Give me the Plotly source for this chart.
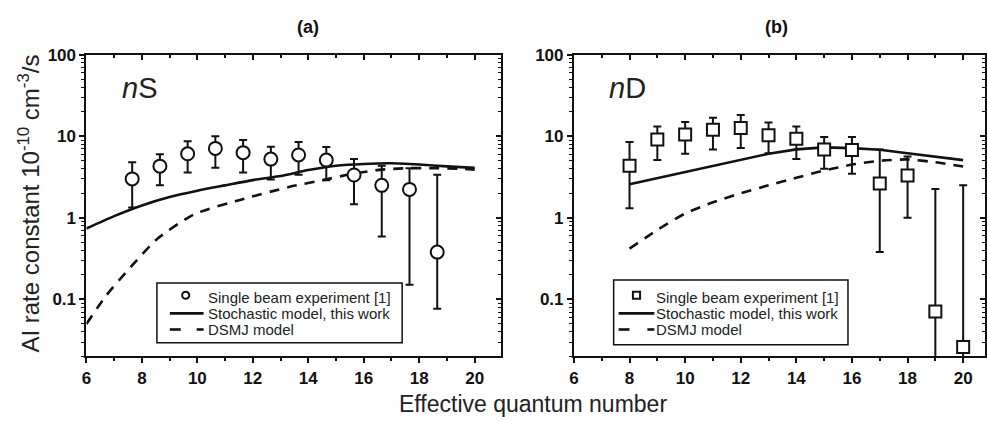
import plotly.graph_objects as go

W, H = 987, 421

# ---------------- data: panel (a) nS ----------------
ns_x = [7.65, 8.65, 9.65, 10.65, 11.65, 12.65, 13.65, 14.65, 15.65, 16.65, 17.65, 18.65]
ns_y = [3.0, 4.3, 6.1, 7.1, 6.3, 5.25, 5.9, 5.1, 3.35, 2.5, 2.23, 0.38]
ns_hi = [4.8, 6.0, 8.7, 10.0, 9.0, 7.45, 8.5, 7.4, 5.25, 4.36, 4.06, 3.37]
ns_lo = [1.34, 2.5, 3.6, 4.1, 3.6, 2.96, 3.37, 2.88, 1.47, 0.59, 0.151, 0.077]

ns_stoch_x = [6, 7, 8, 9, 10, 11, 12, 13, 14, 15, 16, 17, 18, 19, 20]
ns_stoch_y = [0.74, 1.05, 1.42, 1.8, 2.15, 2.5, 2.9, 3.25, 3.85, 4.35, 4.58, 4.66, 4.5, 4.28, 4.1]

ns_dsmj_x = [6, 6.7, 7.6, 8.55, 9.87, 11.54, 13.33, 14.52, 15.6, 16.55, 17.56, 18.46, 19.42, 20]
ns_dsmj_y = [0.05, 0.11, 0.25, 0.55, 1.1, 1.66, 2.4, 2.9, 3.47, 3.87, 4.06, 4.06, 4.0, 3.9]

# ---------------- data: panel (b) nD ----------------
nd_x = [8, 9, 10, 11, 12, 13, 14, 15, 16, 17, 18, 19, 20]
nd_y = [4.36, 9.1, 10.5, 12.0, 12.6, 10.3, 9.3, 6.9, 6.8, 2.63, 3.3, 0.071, 0.026]
nd_hi = [8.5, 13.2, 15.0, 16.9, 18.2, 14.7, 13.2, 9.8, 9.8, 6.9, 5.65, 2.25, 2.5]
nd_lo = [1.31, 5.1, 6.1, 6.9, 7.2, 6.2, 5.25, 4.0, 3.47, 0.38, 1.0, 0.001, 0.001]

nd_stoch_x = [8, 9, 10, 11, 12, 13, 14, 15, 16, 17, 18, 19, 20]
nd_stoch_y = [2.58, 3.06, 3.64, 4.32, 5.13, 6.1, 6.9, 7.3, 7.15, 6.85, 6.2, 5.6, 5.1]

nd_dsmj_x = [8, 9, 10, 11, 12, 13, 14, 15, 16, 17, 18, 19, 20]
nd_dsmj_y = [0.42, 0.71, 1.13, 1.55, 2.0, 2.5, 3.1, 3.8, 4.5, 5.0, 5.2, 4.8, 4.25]

x_ticks = [6, 8, 10, 12, 14, 16, 18, 20]
y_ticks = [0.1, 1, 10, 100]
y_ticktext = ["0.1", "1", "10", "100"]
y_minor = [m * d for d in (0.01, 0.1, 1, 10) for m in range(2, 10)]

LEG_TXT = ["Single beam experiment [1]", "Stochastic model, this work", "DSMJ model"]

FONT = "Liberation Sans, Arial, Helvetica, sans-serif"
BLACK = "#111111"
TXT = "#222222"

fig = go.Figure()


def add_panel(xa, ya, ex, ey, ehi, elo, sx, sy, dx, dy, symbol, msize, smooth_stoch):
    fig.add_trace(go.Scatter(
        x=sx, y=sy, mode="lines", name=LEG_TXT[1], showlegend=False,
        line=dict(color=BLACK, width=2.6, shape="spline" if smooth_stoch else "linear", smoothing=0.6),
        xaxis=xa, yaxis=ya))
    fig.add_trace(go.Scatter(
        x=dx, y=dy, mode="lines", name=LEG_TXT[2], showlegend=False,
        line=dict(color=BLACK, width=2.6, dash="10px,8px", shape="spline", smoothing=0.6),
        xaxis=xa, yaxis=ya))
    fig.add_trace(go.Scatter(
        x=ex, y=ey, mode="markers", name=LEG_TXT[0], showlegend=False,
        marker=dict(symbol=symbol, size=msize, color="white", line=dict(color=BLACK, width=2)),
        error_y=dict(type="data", symmetric=False,
                     array=[h - v for h, v in zip(ehi, ey)],
                     arrayminus=[v - l for v, l in zip(ey, elo)],
                     color=BLACK, thickness=2, width=4),
        xaxis=xa, yaxis=ya))


add_panel("x", "y", ns_x, ns_y, ns_hi, ns_lo, ns_stoch_x, ns_stoch_y,
          ns_dsmj_x, ns_dsmj_y, "circle", 13, True)
add_panel("x2", "y2", nd_x, nd_y, nd_hi, nd_lo, nd_stoch_x, nd_stoch_y,
          nd_dsmj_x, nd_dsmj_y, "square", 12, False)

# dummy traces for mirrored (top / right) tick axes
fig.add_trace(go.Scatter(x=[None], y=[None], xaxis="x3", yaxis="y3", showlegend=False, hoverinfo="skip"))
fig.add_trace(go.Scatter(x=[None], y=[None], xaxis="x4", yaxis="y4", showlegend=False, hoverinfo="skip"))

ytop, ybot = 46.7, 355.0
ydom = [1 - ybot / H, 1 - ytop / H]
xdom1 = [82 / W, 500 / W]
xdom2 = [573 / W, 1.0]
xr1 = [6, 6 + (500 - 82) / 27.93]
xr2 = [6, 6 + (987 - 573) / 28.0]
yr = [-1.699, 2]

tickfont = dict(family=FONT, size=17, color=BLACK, weight="bold")


def xax(dom, rng, anchor):
    return dict(domain=dom, range=rng, anchor=anchor, showgrid=False, zeroline=False,
                showline=True, linecolor=BLACK, linewidth=2, mirror=True,
                ticks="outside", ticklen=5, tickwidth=1.5, tickcolor=BLACK,
                tickmode="array", tickvals=x_ticks, tickfont=tickfont,
                minor=dict(ticks="outside", ticklen=3, tickwidth=1.5, tickcolor=BLACK, dtick=1, tick0=6))


def yax(rng, anchor):
    return dict(domain=ydom, type="log", range=rng, anchor=anchor, showgrid=False, zeroline=False,
                showline=True, linecolor=BLACK, linewidth=2, mirror=True,
                ticks="outside", ticklen=5, tickwidth=1.5, tickcolor=BLACK,
                tickmode="array", tickvals=y_ticks, ticktext=y_ticktext, tickfont=tickfont,
                minor=dict(ticks="outside", ticklen=3, tickwidth=1.2, tickcolor=BLACK,
                           tickmode="array", tickvals=y_minor))


def xtop(over, rng, anchor):
    return dict(overlaying=over, side="top", range=rng, anchor=anchor, showgrid=False,
                zeroline=False, showline=False, showticklabels=False,
                ticks="inside", ticklen=5, tickwidth=1.5, tickcolor=BLACK,
                tickmode="array", tickvals=x_ticks,
                minor=dict(ticks="inside", ticklen=3, tickwidth=1.5, tickcolor=BLACK, dtick=1, tick0=6))


def yright(over, rng, anchor):
    return dict(overlaying=over, side="right", type="log", range=rng, anchor=anchor, showgrid=False,
                zeroline=False, showline=False, showticklabels=False,
                ticks="inside", ticklen=5, tickwidth=1.5, tickcolor=BLACK,
                tickmode="array", tickvals=y_ticks,
                minor=dict(ticks="inside", ticklen=3, tickwidth=1.2, tickcolor=BLACK,
                           tickmode="array", tickvals=y_minor))


fig.update_layout(
    width=W, height=H, margin=dict(l=0, r=0, t=0, b=0),
    paper_bgcolor="white", plot_bgcolor="white",
    font=dict(family=FONT, color=BLACK),
    xaxis=xax(xdom1, xr1, "y"),
    yaxis=yax(yr, "x"),
    xaxis2=xax(xdom2, xr2, "y2"),
    yaxis2=yax(yr, "x2"),
    xaxis3=xtop("x", xr1, "y3"),
    yaxis3=yright("y", yr, "x3"),
    xaxis4=xtop("x2", xr2, "y4"),
    yaxis4=yright("y2", yr, "x4"),
    showlegend=False,
)


def px(x):
    return x / W


def py(y):
    return 1 - y / H


# ---- hand-built legends (box, glyphs, labels) ----
def legend_box(x0, x1, y0, y1, sample_x0, sample_x1, marker_x, text_x, rows, symbol):
    fig.add_shape(type="rect", xref="paper", yref="paper",
                  x0=px(x0), x1=px(x1), y0=py(y1), y1=py(y0),
                  line=dict(color=BLACK, width=1.5), fillcolor="white", layer="above")
    r0, r1, r2 = rows
    s = 3.6
    fig.add_shape(type="circle" if symbol == "circle" else "rect", xref="paper", yref="paper",
                  x0=px(marker_x - s), x1=px(marker_x + s), y0=py(r0 - 2 + s), y1=py(r0 - 2 - s),
                  line=dict(color=BLACK, width=2), fillcolor="white", layer="above")
    fig.add_shape(type="line", xref="paper", yref="paper",
                  x0=px(sample_x0), x1=px(sample_x1), y0=py(r1), y1=py(r1),
                  line=dict(color=BLACK, width=2.6), layer="above")
    for a, b in ((sample_x0, sample_x0 + 11), (sample_x1 - 7, sample_x1)):
        fig.add_shape(type="line", xref="paper", yref="paper",
                      x0=px(a), x1=px(b), y0=py(r2), y1=py(r2),
                      line=dict(color=BLACK, width=2.6), layer="above")
    for txt, r in zip(LEG_TXT, rows):
        fig.add_annotation(xref="paper", yref="paper", x=px(text_x), y=py(r), text=txt,
                           showarrow=False, xanchor="left", yanchor="middle",
                           font=dict(family=FONT, size=15, color=TXT))


legend_box(153, 400, 280, 341, 166, 200, 182, 202, (294.5, 311, 327.5), "circle")
legend_box(613, 849, 277, 343, 618, 654, 636, 654, (294.5, 311, 327.5), "square")

for txt, x in (("<b>(a)</b>", 305), ("<b>(b)</b>", 777)):
    fig.add_annotation(xref="paper", yref="paper", x=px(x), y=py(18), text=txt,
                       showarrow=False, xanchor="center", yanchor="middle",
                       font=dict(family=FONT, size=18, color=BLACK))

fig.add_annotation(xref="paper", yref="paper", x=px(116), y=py(81), text="<i>n</i>S",
                   showarrow=False, xanchor="left", yanchor="middle",
                   font=dict(family=FONT, size=29, color=TXT))
fig.add_annotation(xref="paper", yref="paper", x=px(606), y=py(81), text="<i>n</i>D",
                   showarrow=False, xanchor="left", yanchor="middle",
                   font=dict(family=FONT, size=29, color=TXT))

fig.add_annotation(xref="paper", yref="paper", x=px(532), y=py(404),
                   text="Effective quantum number", showarrow=False,
                   xanchor="center", yanchor="middle",
                   font=dict(family=FONT, size=23, color=TXT))
fig.add_annotation(xref="paper", yref="paper", x=px(24), y=py(199),
                   text="AI rate constant 10<sup>-10</sup> cm<sup>-3</sup>/s", showarrow=False,
                   textangle=-90, xanchor="center", yanchor="middle",
                   font=dict(family=FONT, size=24, color=TXT))

fig.write_html("out.html")
